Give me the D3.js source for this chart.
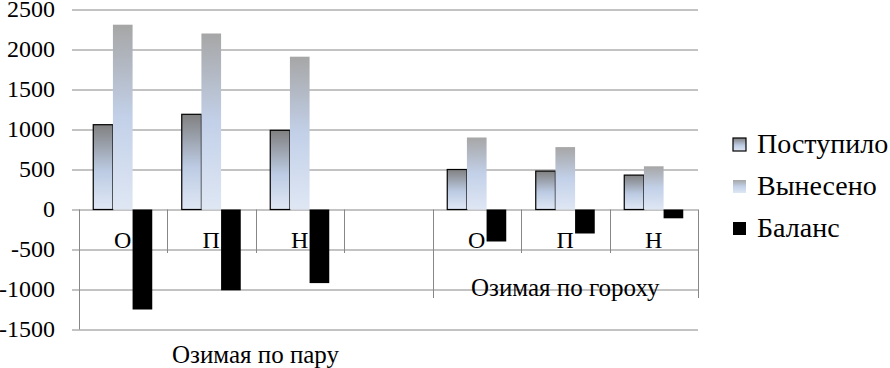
<!DOCTYPE html>
<html>
<head>
<meta charset="utf-8">
<script src="https://cdn.jsdelivr.net/npm/d3@7"></script>
</head>
<body style="margin:0; background:#fff">
<svg id="chart" width="890" height="368" style="display:block"></svg>
<script>
    let categories = ["О", "П", "Н", "", "О", "П", "Н"]
    let groups = [
        { name: "Озимая по пару", from: 0, to: 4 },
        { name: "Озимая по гороху", from: 4, to: 7 }
    ]
    let seriesNames = ["Поступило", "Вынесено", "Баланс"]
    let postupilo = [1060, 1190, 990, null, 500, 480, 430]
    let vyneseno = [2310, 2200, 1910, null, 900, 780, 540]
    let balans = [-1250, -1010, -920, null, -400, -300, -110]
    let yTicks = [-1500, -1000, -500, 0, 500, 1000, 1500, 2000, 2500]

    let svg = d3.select("#chart")
    let gridColor = "#878787"
    let serif = "'Liberation Serif'"

    // gradients like the excel fills
    let defs = svg.append("defs")
    function grad(id, stops) {
        let g = defs.append("linearGradient").attr("id", id)
            .attr("x1", 0).attr("y1", 0).attr("x2", 0).attr("y2", 1)
        stops.forEach(s => g.append("stop").attr("offset", s[0]).attr("stop-color", s[1]))
    }
    grad("gPost", [[0, "#808080"], [0.55, "#bccbe3"], [1, "#dfe7f4"]])
    grad("gVyn", [[0, "#a6a6a6"], [0.5, "#c2d0e8"], [1, "#dfe7f4"]])

    let left = 78.5, right = 698
    let xScale = d3.scaleBand()
        .domain(d3.range(categories.length))
        .range([left, right])
    let bw = xScale.bandwidth()
    let xInner = d3.scaleBand()
        .domain(seriesNames)
        .range([bw / 6, bw * 5 / 6])
    let yScale = d3.scaleLinear()
        .domain([-1500, 2500])
        .range([329.5, 9.5])

    // gridlines
    let yAxis = svg.append("g")
        .attr("transform", "translate(72,0)")
        .call(d3.axisLeft(yScale)
            .tickValues(yTicks)
            .tickSize(-(right - 72))
            .tickFormat(""))
    yAxis.select(".domain").remove()
    yAxis.selectAll("line").attr("stroke", gridColor)

    // tick labels
    svg.append("g").selectAll("text")
        .data(yTicks)
        .enter()
        .append("text")
        .attr("x", 55)
        .attr("y", d => yScale(d) + 7)
        .attr("text-anchor", "end")
        .style("font-family", serif)
        .style("font-size", "24px")
        .text(d => d)

    // category separators
    let sep = svg.append("g").attr("stroke", gridColor).attr("stroke-width", 1)
    d3.range(categories.length + 1).forEach(i => {
        let xx = i == categories.length ? right : xScale(i)
        let bottom = 253
        if (i == 0) bottom = 329.5
        else if (i == 4 || i == categories.length) bottom = 298
        sep.append("line")
            .attr("x1", Math.round(xx) + 0.5).attr("x2", Math.round(xx) + 0.5)
            .attr("y1", yScale(0)).attr("y2", bottom)
    })

    // category labels
    svg.append("g").selectAll("text")
        .data(categories)
        .enter()
        .append("text")
        .attr("x", (d, i) => xScale(i) + bw / 2)
        .attr("y", 248)
        .attr("text-anchor", "middle")
        .style("font-family", serif)
        .style("font-size", "24px")
        .text(d => d)

    // group labels
    let groupY = [363, 296]
    svg.append("g").selectAll("text")
        .data(groups)
        .enter()
        .append("text")
        .attr("x", d => (xScale(d.from) + (d.to >= categories.length ? right : xScale(d.to))) / 2)
        .attr("y", (d, i) => groupY[i])
        .attr("text-anchor", "middle")
        .style("font-family", serif)
        .style("font-size", "25px")
        .text(d => d.name)

    // bars
    let series = [
        { name: "Поступило", values: postupilo, fill: "url(#gPost)", stroke: "#000" },
        { name: "Вынесено", values: vyneseno, fill: "url(#gVyn)", stroke: "none" },
        { name: "Баланс", values: balans, fill: "#000", stroke: "none" }
    ]
    series.forEach(s => {
        svg.append("g").selectAll("rect")
            .data(s.values.map((v, i) => ({ v: v, i: i })).filter(d => d.v != null))
            .enter()
            .append("rect")
            .attr("x", d => xScale(d.i) + xInner(s.name))
            .attr("width", xInner.bandwidth())
            .attr("y", d => yScale(Math.max(0, d.v)))
            .attr("height", d => Math.abs(yScale(d.v) - yScale(0)))
            .attr("fill", s.fill)
            .attr("stroke", s.stroke)
            .attr("stroke-width", 1.2)
    })

    // legend
    let legendY = [145, 187, 229]
    let legend = svg.append("g")
    series.forEach((s, i) => {
        legend.append("rect")
            .attr("x", 733).attr("y", legendY[i] - 7)
            .attr("width", 13).attr("height", 13)
            .attr("fill", s.fill)
            .attr("stroke", s.stroke)
            .attr("stroke-width", 1.2)
        legend.append("text")
            .attr("x", 757).attr("y", legendY[i] + 8)
            .style("font-family", serif)
            .style("font-size", "28px")
            .text(s.name)
    })
</script>
</body>
</html>
